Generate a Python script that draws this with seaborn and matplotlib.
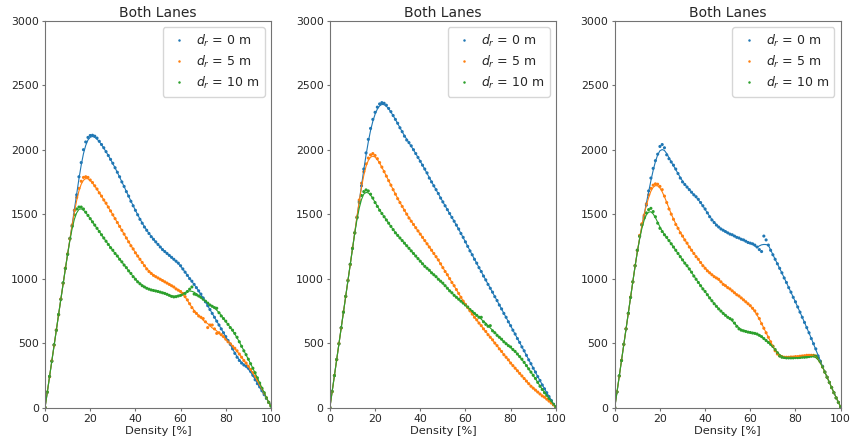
import matplotlib
matplotlib.use("Agg")
import matplotlib.pyplot as plt
import pandas as pd
import seaborn as sns

# Density axis: one sample per percent of lane occupancy
density = list(range(101))

dr_labels = [r"$d_r$ = 0 m", r"$d_r$ = 5 m", r"$d_r$ = 10 m"]
dr_colors = ["#1f77b4", "#ff7f0e", "#2ca02c"]
panel_titles = ["Both Lanes", "Both Lanes", "Both Lanes"]
x_ticks = [0, 20, 40, 60, 80, 100]
y_ticks = [0, 500, 1000, 1500, 2000, 2500, 3000]

# ---- Panel 1: flow [veh/h] vs density ----
flow_p1_d0 = [
    0, 118, 240, 360, 485, 600, 720, 840, 965, 1080, 1190, 1310, 1410,
    1530, 1650, 1790, 1900, 2000, 2060, 2095, 2110, 2112, 2105, 2090, 2065, 2040, 2015, 1985,
    1955, 1925, 1895, 1860, 1825, 1790, 1750, 1715, 1675, 1640, 1600, 1565, 1530, 1495, 1460,
    1430, 1400, 1375, 1350, 1325, 1305, 1285, 1265, 1245, 1225, 1210, 1195, 1180, 1165, 1150,
    1135, 1120, 1100, 1075, 1050, 1025, 1000, 980, 955, 930, 905, 880, 850, 820, 790, 760, 730,
    700, 670, 640, 610, 580, 550, 520, 490, 455, 420, 390, 365, 345, 330, 320, 305, 280, 250,
    215, 185, 160, 130, 100, 70, 40, 20]
flow_p1_d5 = [
    0, 120, 238, 362, 483, 602, 718, 842, 963, 1082, 1192, 1308, 1415,
    1530, 1630, 1700, 1755, 1785, 1790, 1785, 1765, 1745, 1720, 1695, 1665, 1640, 1610, 1585,
    1555, 1525, 1495, 1465, 1435, 1405, 1375, 1345, 1315, 1285, 1255, 1230, 1200, 1175, 1150,
    1125, 1100, 1075, 1055, 1040, 1025, 1015, 1005, 995, 985, 975, 965, 955, 945, 935, 920,
    910, 900, 885, 860, 835, 805, 775, 745, 730, 710, 700, 690, 665, 620, 640, 640, 610, 575,
    580, 565, 550, 530, 510, 495, 475, 460, 440, 415, 390, 365, 345, 320, 295, 270, 240, 210,
    175, 145, 110, 75, 40, 15]
flow_p1_d10 = [
    0, 119, 242, 358, 487, 598, 722, 838, 967, 1078, 1188, 1312, 1405,
    1495, 1540, 1555, 1555, 1540, 1515, 1490, 1465, 1440, 1415, 1390, 1365, 1340, 1315, 1290,
    1265, 1240, 1220, 1195, 1175, 1150, 1130, 1105, 1085, 1060, 1040, 1015, 995, 975, 960,
    945, 935, 925, 918, 912, 908, 904, 900, 895, 890, 885, 878, 870, 862, 858, 860, 865, 870,
    878, 885, 900, 918, 935, 880, 875, 865, 855, 840, 825, 810, 795, 785, 775, 770, 735, 710,
    690, 670, 645, 620, 600, 575, 545, 510, 475, 440, 410, 375, 340, 305, 270, 230, 190, 150,
    115, 75, 40, 10]

# ---- Panel 2 ----
flow_p2_d0 = [
    0, 125, 248, 372, 495, 618, 740, 862, 985, 1110, 1235, 1355, 1475,
    1600, 1720, 1850, 1975, 2080, 2165, 2235, 2290, 2330, 2355, 2365, 2360, 2345, 2320, 2295,
    2265, 2235, 2205, 2170, 2140, 2105, 2075, 2055, 2030, 2000, 1970, 1940, 1910, 1880, 1850,
    1820, 1780, 1750, 1720, 1690, 1660, 1625, 1595, 1565, 1535, 1505, 1475, 1445, 1415, 1385,
    1350, 1320, 1285, 1250, 1215, 1185, 1150, 1120, 1085, 1055, 1020, 990, 955, 925, 895, 860,
    830, 795, 765, 730, 700, 665, 635, 600, 570, 535, 505, 470, 440, 405, 370, 340, 305, 275,
    240, 210, 175, 145, 115, 85, 55, 25, 5]
flow_p2_d5 = [
    0, 123, 250, 370, 497, 616, 742, 860, 987, 1108, 1237, 1353, 1478,
    1610, 1740, 1830, 1890, 1935, 1960, 1970, 1955, 1930, 1900, 1865, 1830, 1795, 1760, 1725,
    1690, 1655, 1620, 1590, 1560, 1530, 1500, 1470, 1445, 1420, 1395, 1370, 1345, 1320, 1295,
    1270, 1245, 1220, 1195, 1170, 1145, 1115, 1085, 1055, 1030, 1000, 970, 945, 915, 885, 855,
    825, 800, 775, 750, 725, 700, 680, 655, 635, 610, 590, 565, 545, 525, 500, 480, 455, 435,
    410, 390, 370, 345, 325, 305, 285, 265, 245, 225, 205, 185, 165, 150, 135, 120, 105, 90,
    80, 65, 50, 35, 20, 5]
flow_p2_d10 = [
    0, 124, 247, 373, 494, 619, 739, 863, 984, 1111, 1234, 1356, 1472,
    1590, 1645, 1675, 1688, 1680, 1655, 1625, 1590, 1560, 1530, 1505, 1480, 1455, 1430, 1405,
    1380, 1355, 1335, 1315, 1295, 1275, 1255, 1235, 1215, 1195, 1175, 1155, 1135, 1115, 1095,
    1080, 1065, 1045, 1030, 1015, 995, 980, 965, 945, 925, 905, 890, 870, 855, 840, 825, 810,
    795, 780, 760, 745, 730, 715, 700, 700, 665, 645, 630, 635, 595, 580, 560, 545, 530, 510,
    495, 480, 470, 450, 435, 415, 395, 375, 350, 325, 300, 275, 250, 225, 195, 165, 140, 115,
    95, 70, 50, 25, 5]

# ---- Panel 3 ----
flow_p3_d0 = [
    0, 120, 245, 365, 490, 610, 730, 855, 975, 1100, 1220, 1330, 1420,
    1480, 1570, 1680, 1780, 1855, 1915, 1965, 2025, 2040, 2015, 1960, 1930, 1905, 1880, 1850,
    1815, 1780, 1750, 1730, 1710, 1690, 1670, 1650, 1635, 1615, 1590, 1565, 1540, 1510, 1480,
    1455, 1435, 1415, 1400, 1385, 1375, 1365, 1355, 1345, 1340, 1330, 1320, 1315, 1305, 1300,
    1290, 1280, 1275, 1270, 1260, 1245, 1225, 1210, 1330, 1300, 1260, 1220, 1185, 1150, 1115,
    1080, 1045, 1005, 970, 930, 895, 855, 820, 780, 740, 700, 660, 620, 580, 535, 495, 455,
    400, 360, 320, 275, 235, 195, 155, 115, 75, 40, 5]
flow_p3_d5 = [
    0, 122, 243, 367, 488, 612, 728, 857, 973, 1102, 1218, 1335, 1425,
    1490, 1580, 1650, 1700, 1725, 1735, 1732, 1715, 1690, 1640, 1590, 1540, 1500, 1460, 1420,
    1390, 1355, 1330, 1300, 1275, 1245, 1220, 1195, 1170, 1150, 1125, 1100, 1080, 1060, 1045,
    1030, 1015, 1005, 995, 975, 955, 945, 930, 920, 905, 890, 875, 865, 850, 835, 820, 805,
    790, 770, 750, 725, 690, 650, 615, 580, 545, 510, 475, 440, 415, 400, 395, 390, 390, 390,
    392, 392, 395, 395, 398, 400, 402, 405, 405, 405, 405, 400, 385, 355, 315, 275, 235, 195,
    155, 115, 75, 40, 5]
flow_p3_d10 = [
    0, 121, 246, 364, 491, 609, 731, 854, 976, 1099, 1221, 1328, 1415,
    1470, 1510, 1535, 1545, 1520, 1480, 1430, 1390, 1365, 1340, 1320, 1295, 1270, 1245, 1220,
    1195, 1170, 1145, 1120, 1100, 1075, 1050, 1020, 995, 970, 945, 920, 900, 875, 850, 828,
    805, 785, 765, 748, 730, 715, 700, 690, 680, 655, 630, 610, 600, 595, 590, 585, 582, 578,
    575, 570, 560, 550, 535, 520, 505, 490, 475, 450, 425, 400, 390, 388, 385, 385, 385, 385,
    387, 387, 388, 390, 390, 392, 395, 398, 400, 398, 385, 355, 315, 275, 235, 195, 155, 115,
    75, 40, 5]

panels = [
    [flow_p1_d0, flow_p1_d5, flow_p1_d10],
    [flow_p2_d0, flow_p2_d5, flow_p2_d10],
    [flow_p3_d0, flow_p3_d5, flow_p3_d10],
]


def panel_frame(series_list):
    """Long table of measured points plus a centred moving-average fit."""
    frames = []
    for label, values in zip(dr_labels, series_list):
        raw = pd.Series(values, dtype=float)
        fit = raw.rolling(5, center=True, min_periods=1).mean()
        fit.iloc[:2] = raw.iloc[:2]
        fit.iloc[-2:] = raw.iloc[-2:]
        frames.append(pd.DataFrame({
            "Density": density, "Flow": raw, "Fit": fit, "dr": label}))
    return pd.concat(frames, ignore_index=True)


sns.set_style("ticks", {
    "axes.edgecolor": "0.45",
    "xtick.color": "0.45",
    "ytick.color": "0.45",
    "text.color": "0.15",
    "axes.labelcolor": "0.15",
})
plt.rcParams["font.family"] = ["DejaVu Sans"]
plt.rcParams["xtick.labelcolor"] = "0.15"
plt.rcParams["ytick.labelcolor"] = "0.15"

palette = dict(zip(dr_labels, dr_colors))

fig, axes = plt.subplots(1, 3, figsize=(8.5, 4.42), dpi=100)
fig.subplots_adjust(left=0.053, right=0.989, bottom=0.078, top=0.953, wspace=0.261)

for ax, series_list, title in zip(axes, panels, panel_titles):
    df = panel_frame(series_list)
    sns.lineplot(data=df, x="Density", y="Fit", hue="dr", hue_order=dr_labels,
                 palette=palette, linewidth=0.8, legend=False, ax=ax)
    sns.scatterplot(data=df, x="Density", y="Flow", hue="dr", hue_order=dr_labels,
                    palette=palette, s=5, linewidth=0, ax=ax)
    sns.move_legend(ax, "upper right", title=None, fontsize=9, frameon=True,
                    markerscale=0.8, handlelength=1.7, handletextpad=0.5,
                    borderpad=0.45, labelspacing=0.4)

    ax.set_xlim(0, 100)
    ax.set_ylim(0, 3000)
    ax.set_xticks(x_ticks)
    ax.set_yticks(y_ticks)
    ax.set_xlabel("Density [%]", fontsize=8.2, labelpad=1.5)
    ax.set_ylabel("")
    ax.set_title(title, fontsize=10, pad=3)
    ax.tick_params(labelsize=7.8, length=2.5, width=0.8, pad=2)
    for spine in ax.spines.values():
        spine.set_linewidth(0.8)

fig.savefig("out.png", dpi=100)
